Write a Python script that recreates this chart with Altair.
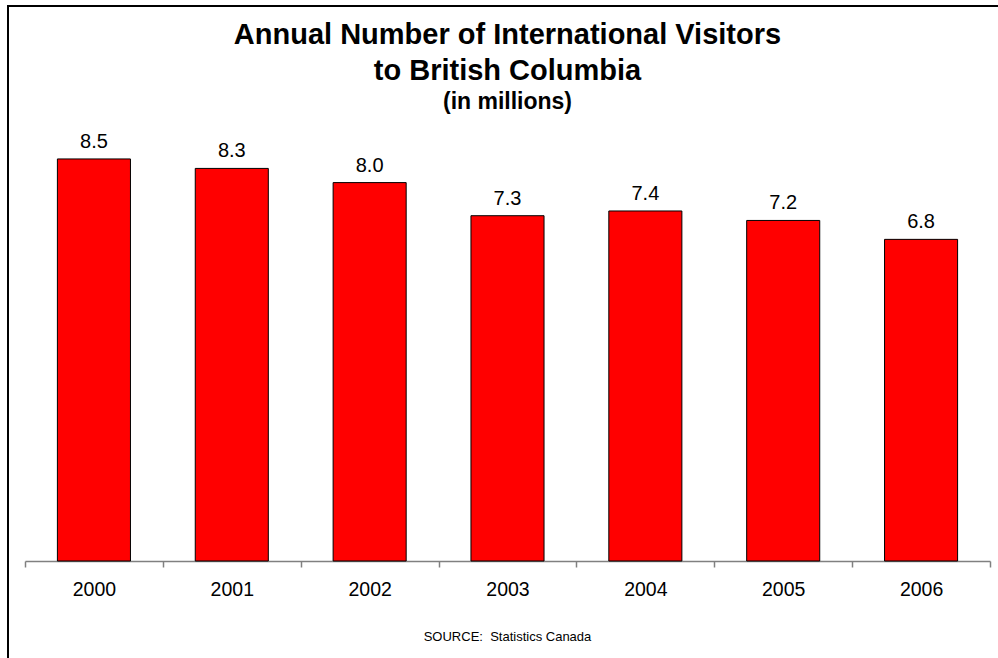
import altair as alt
import pandas as pd

years = ["2000", "2001", "2002", "2003", "2004", "2005", "2006"]
visitors = [8.5, 8.3, 8.0, 7.3, 7.4, 7.2, 6.8]

title_lines = ["Annual Number of International Visitors", "to British Columbia"]
subtitle_text = "(in millions)"
source_text = "SOURCE:\u00a0 Statistics Canada"

FONT = "Liberation Sans"
W, H = 965, 473
PAD_L, PAD_T = 25, 88

df = pd.DataFrame({"year": years, "visitors": visitors})

x_enc = alt.X(
    "year:N",
    sort=years,
    scale=alt.Scale(paddingInner=0, paddingOuter=0),
    axis=alt.Axis(
        title=None,
        labelAngle=0,
        labelFont=FONT,
        labelFontSize=19.5,
        labelColor="black",
        labelPadding=13,
        domainColor="#808080",
        domainWidth=1.5,
        tickColor="#808080",
        tickWidth=1.5,
        tickSize=6,
        tickBand="extent",
    ),
)
y_enc = alt.Y("visitors:Q", scale=alt.Scale(domain=[0, 10]), axis=None)

base = alt.Chart(df)
bars = base.mark_bar(
    color="#FF0000", stroke="black", strokeWidth=1,
    width=alt.RelativeBandSize(0.53),
).encode(x=x_enc, y=y_enc)

values = base.mark_text(
    baseline="alphabetic", dy=-11, font=FONT, fontSize=20, color="black"
).encode(x=x_enc, y=y_enc, text=alt.Text("visitors:Q", format=".1f"))

def text_layer(txt, y, size, weight="normal"):
    return alt.Chart(pd.DataFrame({"t": [txt]})).mark_text(
        font=FONT, fontSize=size, fontWeight=weight, color="black",
        align="center", baseline="alphabetic",
    ).encode(text="t:N", x=alt.value(W / 2), y=alt.value(y - PAD_T))

t1 = text_layer(title_lines[0], 43.5, 29, "bold")
t2 = text_layer(title_lines[1], 79.5, 29, "bold")
t3 = text_layer(subtitle_text, 109, 23, "bold")
src = text_layer(source_text, 640.5, 13)

frame_v = alt.Chart(pd.DataFrame({"k": [0]})).mark_rule(
    color="black", strokeWidth=2
).encode(x=alt.value(8 - PAD_L), y=alt.value(6 - PAD_T), y2=alt.value(800))
frame_h = alt.Chart(pd.DataFrame({"k": [0]})).mark_rule(
    color="black", strokeWidth=2
).encode(x=alt.value(7 - PAD_L), x2=alt.value(1100), y=alt.value(6 - PAD_T))

chart = alt.layer(bars, values, t1, t2, t3, src, frame_v, frame_h).properties(
    width=W,
    height=H,
    padding={"left": PAD_L, "top": PAD_T, "right": 998 - PAD_L - W, "bottom": 658 - PAD_T - H},
    autosize=alt.AutoSizeParams(type="none"),
    background="white",
).configure_view(stroke=None)

chart.save("out.html", embed_options={"renderer": "svg", "actions": False})
